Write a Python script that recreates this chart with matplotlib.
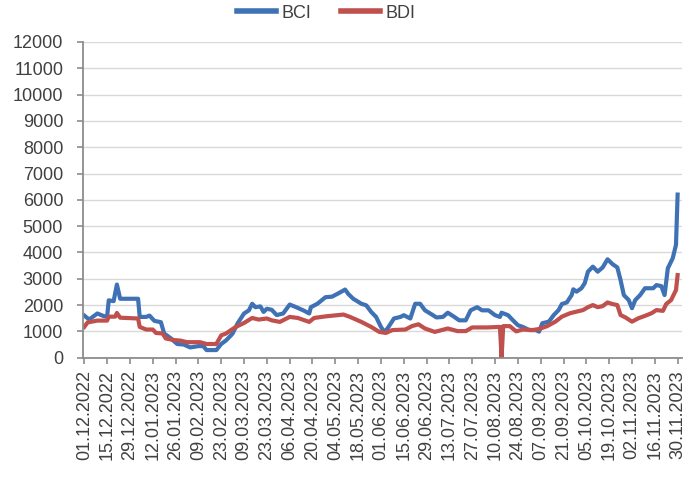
import matplotlib
matplotlib.use("Agg")
import matplotlib.pyplot as plt
import matplotlib.dates as mdates
import pandas as pd

# BCI (Baltic Capesize Index)
bci_dates = [
    "2022-12-01", "2022-12-04", "2022-12-09", "2022-12-13", "2022-12-15", "2022-12-16",
    "2022-12-19", "2022-12-21", "2022-12-23", "2023-01-03", "2023-01-04", "2023-01-08",
    "2023-01-10", "2023-01-13", "2023-01-17", "2023-01-19", "2023-01-23", "2023-01-27",
    "2023-01-31", "2023-02-04", "2023-02-09", "2023-02-12", "2023-02-14", "2023-02-20",
    "2023-02-23", "2023-02-26", "2023-03-01", "2023-03-02", "2023-03-05", "2023-03-09",
    "2023-03-12", "2023-03-14", "2023-03-16", "2023-03-19", "2023-03-21", "2023-03-23",
    "2023-03-26", "2023-03-29", "2023-04-02", "2023-04-06", "2023-04-10", "2023-04-15",
    "2023-04-18", "2023-04-19", "2023-04-23", "2023-04-28", "2023-05-02", "2023-05-06",
    "2023-05-10", "2023-05-12", "2023-05-15", "2023-05-20", "2023-05-23", "2023-05-26",
    "2023-05-29", "2023-06-01", "2023-06-03", "2023-06-05", "2023-06-09", "2023-06-13",
    "2023-06-15", "2023-06-19", "2023-06-22", "2023-06-25", "2023-06-28", "2023-07-02",
    "2023-07-05", "2023-07-09", "2023-07-12", "2023-07-16", "2023-07-19", "2023-07-23",
    "2023-07-26", "2023-07-30", "2023-08-02", "2023-08-06", "2023-08-10", "2023-08-13",
    "2023-08-14", "2023-08-18", "2023-08-21", "2023-08-24", "2023-08-27", "2023-08-31",
    "2023-09-04", "2023-09-06", "2023-09-08", "2023-09-12", "2023-09-15", "2023-09-18",
    "2023-09-20", "2023-09-23", "2023-09-26", "2023-09-27", "2023-09-29", "2023-10-02",
    "2023-10-04", "2023-10-06", "2023-10-09", "2023-10-12", "2023-10-15", "2023-10-18",
    "2023-10-21", "2023-10-24", "2023-10-26", "2023-10-28", "2023-10-31", "2023-11-02",
    "2023-11-04", "2023-11-07", "2023-11-10", "2023-11-15", "2023-11-17", "2023-11-20",
    "2023-11-22", "2023-11-24", "2023-11-27", "2023-11-29", "2023-11-30",
]
bci_values = [
    1600, 1450, 1680, 1580, 1560, 2180,
    2150, 2780, 2240, 2240, 1550, 1550,
    1600, 1400, 1350, 920, 740, 520,
    500, 390, 440, 440, 290, 290,
    520, 660, 850, 920, 1300, 1680,
    1800, 2050, 1920, 1950, 1740, 1860,
    1820, 1620, 1680, 2020, 1920, 1780,
    1680, 1920, 2050, 2300, 2320, 2450,
    2590, 2420, 2240, 2050, 1990, 1740,
    1550, 1170, 980, 1110, 1490, 1550,
    1615, 1490, 2050, 2050, 1800, 1650,
    1530, 1550, 1710, 1550, 1420, 1420,
    1800, 1920, 1800, 1800, 1615, 1550,
    1710, 1615, 1420, 1235, 1170, 1050,
    1050, 990, 1310, 1370, 1620, 1810,
    2040, 2100, 2380, 2600, 2510, 2640,
    2830, 3270, 3460, 3270, 3430, 3740,
    3560, 3430, 2950, 2380, 2190, 1880,
    2190, 2380, 2640, 2640, 2760, 2720,
    2380, 3400, 3780, 4290, 6200,
]

# BDI (Baltic Dry Index)
bdi_dates = [
    "2022-12-01", "2022-12-03", "2022-12-09", "2022-12-15", "2022-12-16", "2022-12-20",
    "2022-12-21", "2022-12-23", "2023-01-03", "2023-01-04", "2023-01-08", "2023-01-12",
    "2023-01-14", "2023-01-18", "2023-01-20", "2023-01-25", "2023-01-29", "2023-02-02",
    "2023-02-10", "2023-02-14", "2023-02-20", "2023-02-23", "2023-02-26", "2023-03-01",
    "2023-03-04", "2023-03-09", "2023-03-14", "2023-03-18", "2023-03-23", "2023-03-26",
    "2023-03-31", "2023-04-06", "2023-04-11", "2023-04-18", "2023-04-21", "2023-04-28",
    "2023-05-09", "2023-05-13", "2023-05-20", "2023-05-26", "2023-05-31", "2023-06-04",
    "2023-06-08", "2023-06-16", "2023-06-20", "2023-06-24", "2023-06-28", "2023-07-04",
    "2023-07-12", "2023-07-18", "2023-07-23", "2023-07-27", "2023-08-05", "2023-08-13",
    "2023-08-14", "2023-08-15", "2023-08-19", "2023-08-23", "2023-08-27", "2023-09-02",
    "2023-09-06", "2023-09-11", "2023-09-16", "2023-09-20", "2023-09-25", "2023-09-29",
    "2023-10-03", "2023-10-06", "2023-10-09", "2023-10-12", "2023-10-15", "2023-10-18",
    "2023-10-21", "2023-10-24", "2023-10-26", "2023-10-29", "2023-11-02", "2023-11-06",
    "2023-11-10", "2023-11-14", "2023-11-17", "2023-11-21", "2023-11-23", "2023-11-26",
    "2023-11-29", "2023-11-30",
]
bdi_values = [
    1170, 1340, 1410, 1410, 1560, 1560,
    1700, 1520, 1490, 1170, 1070, 1070,
    940, 920, 730, 670, 650, 590,
    590, 520, 520, 850, 920, 1050,
    1170, 1320, 1510, 1450, 1490, 1420,
    1360, 1550, 1510, 1360, 1510, 1570,
    1640, 1550, 1360, 1170, 980, 940,
    1050, 1070, 1200, 1270, 1110, 980,
    1110, 1010, 1010, 1150, 1150, 1170,
    0, 1200, 1200, 1000, 1070, 1050,
    1090, 1200, 1370, 1560, 1690, 1750,
    1810, 1920, 2000, 1920, 1960, 2100,
    2040, 2000, 1620, 1530, 1370, 1500,
    1590, 1690, 1810, 1780, 2040, 2190,
    2570, 3140,
]

BLUE = "#3f72b5"
RED = "#c0504d"
TEXT = "#404040"

plt.rcParams["font.family"] = ["Liberation Sans", "DejaVu Sans"]

fig = plt.figure(figsize=(6.91, 4.82), dpi=100)
ax = fig.add_subplot(111)
fig.subplots_adjust(left=0.1201, right=0.987, top=0.9129, bottom=0.2579)

ax.plot(pd.to_datetime(bci_dates), bci_values, color=BLUE, lw=3.0,
        solid_joinstyle="round", label="BCI")
ax.plot(pd.to_datetime(bdi_dates), bdi_values, color=RED, lw=3.0,
        solid_joinstyle="round", label="BDI")

ax.set_ylim(0, 12000)
ax.set_yticks(range(0, 12001, 1000))
start = pd.Timestamp("2022-12-01")
ax.set_xlim(start - pd.Timedelta(days=0.8), start + pd.Timedelta(days=366.7))
ticks = pd.date_range("2022-12-01", "2023-11-30", freq="14D")
ax.set_xticks(ticks)
ax.xaxis.set_major_formatter(mdates.DateFormatter("%d.%m.%Y"))

ax.grid(axis="y", color="#d9d9d9", lw=1.0)
ax.set_axisbelow(True)
for s in ["top", "right"]:
    ax.spines[s].set_visible(False)
for s in ["left", "bottom"]:
    ax.spines[s].set_color("#8c8c8c")
    ax.spines[s].set_linewidth(1.3)

ax.tick_params(axis="y", length=4.3, width=1.2, color="#8c8c8c", pad=10,
               labelsize=13, labelcolor=TEXT)
ax.tick_params(axis="x", length=4, width=1.2, color="#8c8c8c", pad=5,
               labelsize=13, labelcolor=TEXT, labelrotation=90)

leg = fig.legend(loc="center", bbox_to_anchor=(0.472, 0.973), ncol=2,
                 frameon=False, fontsize=13, handlelength=2.2,
                 handletextpad=0.3, columnspacing=1.6)
for t in leg.get_texts():
    t.set_color(TEXT)
for h in leg.legend_handles:
    h.set_linewidth(4.0)

fig.savefig("out.png", dpi=100)
